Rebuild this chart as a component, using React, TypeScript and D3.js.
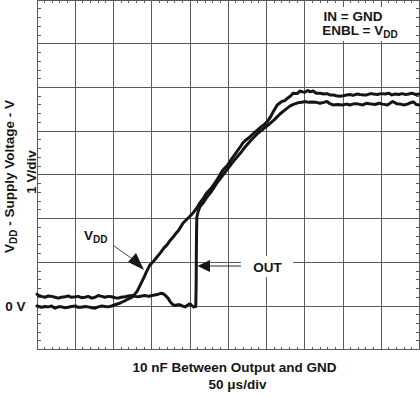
import React from 'react';
import * as d3 from 'd3';

const W = 420;
const H = 398;

// time axis in microseconds (50 us/div), voltage axis in volts (1 V/div)
const timeGrid = [0, 50, 100, 150, 200, 250, 300, 350, 400, 450, 500];
const voltGrid = [-1, 0, 1, 2, 3, 4, 5, 6, 7];

// V_DD trace
const vddTime = [0, 6, 10.5, 15, 19, 23.5, 28, 32, 36.6, 41, 45, 50, 54, 58, 62.7, 67, 71.5, 76, 80, 84.5, 89, 93, 97.6, 102, 106, 110, 115, 119, 123, 126, 131, 135.5, 140, 143, 147.7, 152, 155, 161, 166, 170, 174, 178, 182, 185, 191, 198, 204, 208, 213, 218, 222, 228, 235, 239, 243, 249, 255, 262, 266, 269, 273, 277, 285, 293, 297, 301, 305, 308, 314, 320, 324, 327, 331, 335, 340, 344, 347, 350, 354, 357, 361, 365, 370, 375, 379, 383, 387, 391, 396, 400, 405, 409, 413, 418, 422, 427, 431, 436, 440, 445, 450, 455, 460, 464, 468, 473, 477, 482, 486, 490, 495, 500];
const vddVolt = [0.0, -0.03, -0.01, -0.02, 0.0, -0.05, -0.02, -0.02, -0.04, -0.03, -0.01, 0.0, -0.03, -0.03, -0.01, -0.02, -0.04, -0.05, -0.02, 0.0, -0.01, -0.02, 0.0, 0.03, 0.05, 0.08, 0.12, 0.16, 0.19, 0.23, 0.34, 0.5, 0.66, 0.78, 0.94, 1.02, 1.08, 1.21, 1.33, 1.4, 1.5, 1.58, 1.67, 1.73, 1.9, 2.02, 2.13, 2.22, 2.36, 2.48, 2.59, 2.7, 2.88, 3.0, 3.11, 3.22, 3.38, 3.55, 3.65, 3.73, 3.8, 3.85, 3.98, 4.1, 4.15, 4.22, 4.32, 4.42, 4.6, 4.68, 4.7, 4.75, 4.8, 4.87, 4.86, 4.92, 4.9, 4.89, 4.93, 4.9, 4.92, 4.87, 4.87, 4.85, 4.86, 4.83, 4.83, 4.81, 4.8, 4.81, 4.83, 4.84, 4.82, 4.85, 4.84, 4.83, 4.83, 4.86, 4.85, 4.84, 4.86, 4.85, 4.87, 4.83, 4.85, 4.84, 4.86, 4.84, 4.85, 4.87, 4.84, 4.85];

// OUT trace
const outTime = [0, 2, 6, 10.5, 15, 19, 23.5, 28, 32, 36.6, 41, 45, 50, 54, 58, 62.7, 67, 71.5, 76, 80, 84.5, 89, 93, 97.6, 102, 106, 110, 115, 119, 124, 128, 132.5, 137, 141, 146, 150, 154, 158.6, 162, 165, 168, 171.6, 174, 177, 180, 184, 187, 190, 193.5, 197, 200, 203, 205, 207.5, 208, 208.3, 208.6, 209, 211, 213, 218, 222, 228, 235, 241, 248, 254, 259, 266, 272, 280, 289, 295, 302, 310, 318, 325, 331, 336, 341, 346, 350, 355, 359, 365, 370, 375, 379, 383, 387, 393, 399, 405, 409, 415, 420, 426, 431, 437, 442, 447, 452, 458, 465, 470, 475, 480, 484, 488, 492, 496, 500];
const outVolt = [0.27, 0.24, 0.22, 0.2, 0.23, 0.22, 0.2, 0.18, 0.2, 0.21, 0.23, 0.2, 0.21, 0.22, 0.19, 0.2, 0.22, 0.18, 0.2, 0.24, 0.22, 0.2, 0.22, 0.21, 0.19, 0.18, 0.2, 0.21, 0.23, 0.24, 0.22, 0.21, 0.23, 0.24, 0.22, 0.24, 0.25, 0.27, 0.29, 0.28, 0.24, 0.17, 0.1, 0.04, 0.01, 0.03, 0.03, 0.0, -0.02, 0.02, 0.05, 0.0, -0.02, -0.01, 0.4, 1.2, 1.74, 2.04, 2.18, 2.27, 2.38, 2.49, 2.62, 2.81, 2.95, 3.11, 3.25, 3.36, 3.5, 3.64, 3.8, 3.96, 4.04, 4.14, 4.26, 4.4, 4.5, 4.58, 4.62, 4.65, 4.66, 4.68, 4.66, 4.67, 4.66, 4.64, 4.66, 4.68, 4.63, 4.6, 4.61, 4.6, 4.62, 4.6, 4.63, 4.62, 4.6, 4.64, 4.62, 4.61, 4.64, 4.62, 4.6, 4.68, 4.63, 4.62, 4.6, 4.62, 4.65, 4.67, 4.61, 4.6];

const x = d3.scaleLinear().domain([0, 500]).range([37, 419.5]);
const y = d3.scaleLinear().domain([-1, 7]).range([349.7, 0.1]);

const FONT = '"Liberation Sans", Arial, Helvetica, sans-serif';
const GRID = '#5a5a5a';
const INK = '#151515';
const FS = 13.5;
const SUB = 10;

export default function App() {
  const line = d3
    .line<[number, number]>()
    .x((d) => x(d[0]))
    .y((d) => y(d[1]))
    .curve(d3.curveLinear);

  const vdd: [number, number][] = vddTime.map((t, i) => [t, vddVolt[i]]);
  const out: [number, number][] = outTime.map((t, i) => [t, outVolt[i]]);

  const minorX = d3.range(0, 500, 10).filter((v) => v % 50 !== 0);
  const minorY = d3.range(-1, 7.0001, 0.2).filter((v) => Math.abs(v - Math.round(v)) > 0.01);

  const [x0, x1] = x.range();
  const [y0, y1] = y.range();

  return (
    <svg
      width={W}
      height={H}
      viewBox={`0 0 ${W} ${H}`}
      style={{ position: 'absolute', left: 0, top: 0, background: '#fff' }}
    >
      <rect x={0} y={0} width={W} height={H} fill="#fff" />
      {/* grid */}
      <g stroke={GRID} strokeWidth={1} shapeRendering="crispEdges">
        {timeGrid.map((t) => (
          <line key={'vx' + t} x1={x(t)} x2={x(t)} y1={y1} y2={y0} />
        ))}
        {voltGrid.map((v) => (
          <line key={'hy' + v} x1={x0} x2={x1} y1={y(v)} y2={y(v)} />
        ))}
        {minorX.map((t) => (
          <g key={'mx' + t}>
            <line x1={x(t)} x2={x(t)} y1={0} y2={3} />
            <line x1={x(t)} x2={x(t)} y1={y0} y2={y0 - 3} />
          </g>
        ))}
        {minorY.map((v) => (
          <g key={'my' + v.toFixed(1)}>
            <line x1={x0} x2={x0 + 4} y1={y(v)} y2={y(v)} />
            <line x1={x1} x2={x1 - 4} y1={y(v)} y2={y(v)} />
          </g>
        ))}
      </g>

      {/* condition box */}
      <rect x={318} y={7} width={84} height={34} fill="#fff" />
      <g fontFamily={FONT} fontWeight="bold" fontSize={FS} fill={INK} textAnchor="middle">
        <text x={353} y={20.5}>IN = GND</text>
        <text x={360} y={35}>
          ENBL = V<tspan fontSize={SUB} dy={3}>DD</tspan>
        </text>
      </g>

      {/* traces */}
      <path d={line(vdd) || ''} fill="none" stroke={INK} strokeWidth={3} strokeLinejoin="round" strokeLinecap="round" />
      <path d={line(out) || ''} fill="none" stroke={INK} strokeWidth={3} strokeLinejoin="round" strokeLinecap="round" />

      {/* V_DD annotation */}
      <text x={84} y={240} fontFamily={FONT} fontWeight="bold" fontSize={FS} fill={INK}>
        V<tspan fontSize={SUB} dy={3}>DD</tspan>
      </text>
      <line x1={114} y1={246} x2={134} y2={260} stroke={INK} strokeWidth={0.8} />
      <polygon points="144,270 128,262 136,253" fill={INK} />

      {/* OUT annotation */}
      <rect x={241} y={256} width={52} height={21} fill="#fff" />
      <line x1={209} y1={266} x2={241} y2={266} stroke={INK} strokeWidth={0.9} />
      <polygon points="197.5,266 210,260 210,272" fill={INK} />
      <text x={267.5} y={272} textAnchor="middle" fontFamily={FONT} fontWeight="bold" fontSize={FS} fill={INK}>
        OUT
      </text>

      {/* axis labels */}
      <text x={25.5} y={311} textAnchor="end" fontFamily={FONT} fontWeight="bold" fontSize={FS} fill={INK}>
        0 V
      </text>
      <text
        transform="translate(13.5,176.5) rotate(-90)"
        textAnchor="middle"
        fontFamily={FONT}
        fontWeight="bold"
        fontSize={FS}
        fill={INK}
      >
        V<tspan fontSize={SUB} dy={3}>DD</tspan>
        <tspan dy={-3}> - Supply Voltage - V</tspan>
      </text>
      <text
        transform="translate(35.5,172) rotate(-90)"
        textAnchor="middle"
        fontFamily={FONT}
        fontWeight="bold"
        fontSize={FS}
        fill={INK}
      >
        1 V/div
      </text>
      <text x={234.5} y={371.5} textAnchor="middle" fontFamily={FONT} fontWeight="bold" fontSize={FS} fill={INK}>
        10 nF Between Output and GND
      </text>
      <text x={237.5} y={388.5} textAnchor="middle" fontFamily={FONT} fontWeight="bold" fontSize={FS} fill={INK}>
        50 μs/div
      </text>
    </svg>
  );
}
